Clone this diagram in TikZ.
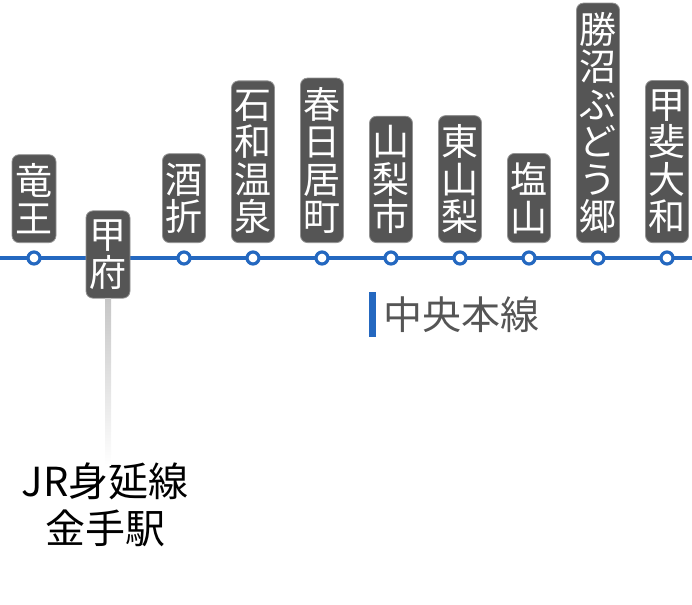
\documentclass[tikz,border=0pt]{standalone}
\usepackage{fontspec}
\usepackage{xcolor}
\usetikzlibrary{positioning}
\newfontfamily\cjk{Noto Sans CJK JP}
\definecolor{linecol}{HTML}{2468C0}
\definecolor{pillcol}{HTML}{555555}
\tikzset{
  station/.style={circle, draw=linecol, line width=3.2pt, fill=white, inner sep=0pt, minimum size=12pt},
  namepill/.style={rounded corners=7pt, draw=gray!85, line width=0.8pt, fill=pillcol, text=white, inner xsep=0pt, inner ysep=9pt,
    text width=43pt, align=center, font=\cjk\fontsize{37}{37.5}\selectfont},
  bigtext/.style={align=center, inner sep=0pt, font=\cjk\fontsize{40}{47}\selectfont},
}
\begin{document}
\begin{tikzpicture}[x=1pt, y=-1pt]
  \useasboundingbox (0, 0) rectangle (692, 604);

  % Line ends
  \coordinate (lineL) at (0, 258);
  \coordinate (lineR) at (692, 258);
  \draw[linecol, line width=4pt] (lineL) -- (lineR);

  % Stations
  \node[station] (ryuo) at (34, 258) {};
  \node[station] (sakaori) at (184, 258) {};
  \node[station] (isawa) at (253, 258) {};
  \node[station] (kasugai) at (322, 258) {};
  \node[station] (yamanashi) at (391, 258) {};
  \node[station] (higashi) at (460, 258) {};
  \node[station] (enzan) at (529, 258) {};
  \node[station] (katsunuma) at (598, 258) {};
  \node[station] (kai) at (667, 258) {};

  % Name labels
  \node[namepill, text width=44pt, anchor=south] (ryuoName) at (34, 243) {竜\\王};
  \node[namepill, text width=44pt, anchor=center] (kofuName) at (108, 254.5) {甲\\府};
  \node[namepill, anchor=south] (sakaoriName) at (184, 243) {酒\\折};
  \node[namepill, anchor=south] (isawaName) at (253, 243) {石\\和\\温\\泉};
  \node[namepill, anchor=south] (kasugaiName) at (322, 243) {春\\日\\居\\町};
  \node[namepill, anchor=south] (yamanashiName) at (391, 243) {山\\梨\\市};
  \node[namepill, anchor=south] (higashiName) at (460, 243) {東\\山\\梨};
  \node[namepill, anchor=south] (enzanName) at (529, 243) {塩\\山};
  \node[namepill, anchor=south] (katsunumaName) at (598, 243) {勝\\沼\\ぶ\\ど\\う\\郷};
  \node[namepill, anchor=south] (kaiName) at (667, 243) {甲\\斐\\大\\和};

  % Line name
  \node[inner sep=0pt, minimum width=6.5pt, minimum height=45pt, fill=linecol] (lineBar) at (372.5, 314.5) {};
  \node[bigtext, font=\cjk\fontsize{39}{47}\selectfont, text=pillcol, right=7pt of lineBar] (lineName) {中央本線};

  % Transfer
  \node[bigtext, anchor=north] (transfer) at (105, 463) {JR身延線\\金手駅};
  \shade[top color=gray!45, bottom color=white]
     ([xshift=-3pt]kofuName.south) rectangle ([xshift=3pt, yshift=-2pt]kofuName.south |- transfer.north);
\end{tikzpicture}
\end{document}
